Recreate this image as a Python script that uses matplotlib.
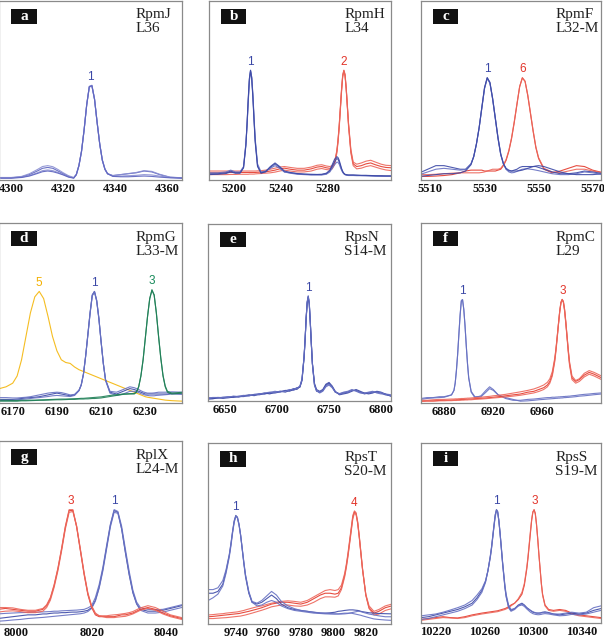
import matplotlib
matplotlib.use("Agg")
import matplotlib.pyplot as plt
from matplotlib.patches import Rectangle

# ---------------- data ----------------
# panel a  RpmJ L36
A_X = [4296, 4300, 4304, 4307, 4310, 4312, 4314, 4316, 4318, 4320, 4322, 4324, 4325, 4326, 4327, 4328, 4329, 4330, 4331, 4332, 4333, 4334, 4335, 4336, 4337, 4339, 4342, 4345, 4348, 4351, 4354, 4357, 4361, 4366]
A_BLUE_1 = [0.012, 0.012, 0.018, 0.03, 0.05, 0.065, 0.07, 0.065, 0.05, 0.035, 0.02, 0.012, 0.03, 0.08, 0.16, 0.28, 0.42, 0.52, 0.525, 0.45, 0.32, 0.20, 0.11, 0.06, 0.035, 0.025, 0.03, 0.035, 0.04, 0.05, 0.045, 0.03, 0.015, 0.012]
A_BLUE_2 = [0.012, 0.012, 0.015, 0.025, 0.04, 0.052, 0.056, 0.052, 0.042, 0.03, 0.018, 0.012, 0.028, 0.078, 0.158, 0.278, 0.418, 0.518, 0.522, 0.448, 0.318, 0.198, 0.108, 0.058, 0.034, 0.024, 0.03, 0.036, 0.042, 0.052, 0.048, 0.032, 0.016, 0.012]
A_BLUE_3 = [0.014, 0.014, 0.02, 0.035, 0.058, 0.075, 0.08, 0.074, 0.058, 0.04, 0.024, 0.014, 0.032, 0.082, 0.162, 0.282, 0.422, 0.522, 0.528, 0.452, 0.322, 0.202, 0.112, 0.062, 0.036, 0.022, 0.022, 0.024, 0.026, 0.03, 0.028, 0.022, 0.014, 0.01]
A_BLUE_4 = [0.01, 0.01, 0.014, 0.022, 0.036, 0.046, 0.05, 0.046, 0.038, 0.028, 0.016, 0.01, 0.03, 0.08, 0.16, 0.28, 0.42, 0.52, 0.525, 0.45, 0.32, 0.2, 0.11, 0.06, 0.035, 0.02, 0.018, 0.018, 0.02, 0.022, 0.02, 0.016, 0.012, 0.01]

# panel b  RpmH L34
B_X = [5178, 5186, 5193, 5197, 5201, 5205, 5208, 5210, 5211, 5212, 5213, 5214, 5215, 5216, 5217, 5218, 5220, 5223, 5227, 5231, 5235, 5239, 5243, 5248, 5254, 5260, 5266, 5271, 5275, 5279, 5282, 5284, 5286, 5288, 5289, 5290, 5291, 5292, 5293, 5294, 5295, 5296, 5297, 5298, 5300, 5302, 5305, 5309, 5313, 5317, 5321, 5326, 5330, 5335]
B_BLUE_1 = [0.035, 0.035, 0.04, 0.05, 0.04, 0.04, 0.07, 0.2, 0.31, 0.44, 0.56, 0.61, 0.57, 0.47, 0.34, 0.22, 0.08, 0.04, 0.045, 0.07, 0.09, 0.07, 0.045, 0.04, 0.035, 0.032, 0.03, 0.03, 0.03, 0.035, 0.05, 0.075, 0.1, 0.12, 0.115, 0.1, 0.08, 0.06, 0.045, 0.035, 0.03, 0.028, 0.027, 0.027, 0.027, 0.027, 0.026, 0.025, 0.025, 0.024, 0.023, 0.022, 0.022, 0.022]
B_BLUE_2 = [0.04, 0.04, 0.045, 0.055, 0.045, 0.045, 0.075, 0.2, 0.3, 0.43, 0.55, 0.605, 0.575, 0.48, 0.35, 0.23, 0.09, 0.045, 0.05, 0.065, 0.08, 0.065, 0.045, 0.038, 0.032, 0.03, 0.028, 0.028, 0.028, 0.032, 0.045, 0.065, 0.085, 0.1, 0.098, 0.088, 0.07, 0.055, 0.042, 0.035, 0.03, 0.028, 0.026, 0.025, 0.025, 0.025, 0.024, 0.024, 0.023, 0.022, 0.021, 0.02, 0.02, 0.02]
B_BLUE_3 = [0.03, 0.032, 0.036, 0.045, 0.038, 0.038, 0.068, 0.19, 0.31, 0.45, 0.565, 0.612, 0.565, 0.46, 0.33, 0.21, 0.075, 0.038, 0.048, 0.075, 0.095, 0.075, 0.05, 0.042, 0.036, 0.033, 0.032, 0.031, 0.032, 0.038, 0.055, 0.085, 0.115, 0.13, 0.125, 0.11, 0.088, 0.065, 0.048, 0.038, 0.032, 0.03, 0.029, 0.028, 0.028, 0.028, 0.027, 0.026, 0.026, 0.025, 0.024, 0.024, 0.023, 0.023]
B_RED_1 = [0.04, 0.04, 0.042, 0.042, 0.042, 0.042, 0.042, 0.042, 0.042, 0.042, 0.042, 0.042, 0.042, 0.042, 0.042, 0.042, 0.043, 0.044, 0.046, 0.05, 0.055, 0.062, 0.066, 0.06, 0.055, 0.055, 0.062, 0.072, 0.075, 0.068, 0.065, 0.07, 0.09, 0.16, 0.22, 0.3, 0.4, 0.5, 0.58, 0.61, 0.585, 0.51, 0.41, 0.31, 0.16, 0.09, 0.075, 0.08, 0.09, 0.095, 0.085, 0.075, 0.07, 0.068]
B_RED_2 = [0.03, 0.03, 0.03, 0.031, 0.031, 0.032, 0.032, 0.032, 0.032, 0.032, 0.033, 0.033, 0.033, 0.033, 0.033, 0.034, 0.035, 0.036, 0.038, 0.04, 0.044, 0.05, 0.055, 0.05, 0.045, 0.045, 0.05, 0.06, 0.064, 0.058, 0.056, 0.062, 0.085, 0.15, 0.21, 0.29, 0.39, 0.49, 0.575, 0.605, 0.58, 0.505, 0.405, 0.3, 0.15, 0.08, 0.062, 0.066, 0.075, 0.08, 0.072, 0.062, 0.056, 0.052]
B_RED_3 = [0.05, 0.05, 0.05, 0.05, 0.05, 0.05, 0.05, 0.05, 0.05, 0.05, 0.05, 0.05, 0.05, 0.05, 0.05, 0.05, 0.051, 0.052, 0.055, 0.06, 0.066, 0.072, 0.075, 0.07, 0.065, 0.065, 0.072, 0.082, 0.085, 0.078, 0.075, 0.08, 0.1, 0.165, 0.225, 0.305, 0.405, 0.505, 0.585, 0.612, 0.59, 0.515, 0.415, 0.315, 0.17, 0.1, 0.088, 0.095, 0.105, 0.11, 0.1, 0.088, 0.082, 0.08]

# panel c  RpmF L32-M
C_X = [5506, 5509, 5512, 5515, 5518, 5521, 5523, 5525, 5526, 5527, 5528, 5529, 5530, 5531, 5532, 5533, 5534, 5535, 5536, 5537, 5538, 5539, 5540, 5541, 5542, 5543, 5544, 5545, 5546, 5547, 5548, 5549, 5550, 5552, 5555, 5558, 5561, 5564, 5567, 5570, 5574]
C_BLUE_1 = [0.04, 0.06, 0.08, 0.08, 0.07, 0.06, 0.06, 0.09, 0.13, 0.2, 0.29, 0.4, 0.51, 0.57, 0.54, 0.45, 0.34, 0.23, 0.14, 0.09, 0.06, 0.05, 0.05, 0.055, 0.06, 0.07, 0.075, 0.075, 0.075, 0.075, 0.075, 0.075, 0.07, 0.06, 0.045, 0.035, 0.035, 0.04, 0.05, 0.045, 0.035]
C_BLUE_2 = [0.03, 0.045, 0.06, 0.065, 0.06, 0.055, 0.058, 0.09, 0.13, 0.2, 0.29, 0.4, 0.51, 0.565, 0.54, 0.455, 0.345, 0.235, 0.145, 0.09, 0.06, 0.045, 0.04, 0.042, 0.048, 0.055, 0.06, 0.062, 0.062, 0.06, 0.058, 0.055, 0.052, 0.045, 0.035, 0.03, 0.03, 0.035, 0.045, 0.04, 0.03]
C_BLUE_3 = [0.02, 0.025, 0.03, 0.035, 0.035, 0.04, 0.05, 0.085, 0.13, 0.2, 0.29, 0.405, 0.515, 0.57, 0.545, 0.455, 0.345, 0.235, 0.145, 0.09, 0.065, 0.055, 0.05, 0.05, 0.05, 0.052, 0.055, 0.06, 0.065, 0.07, 0.075, 0.078, 0.08, 0.075, 0.06, 0.045, 0.035, 0.03, 0.03, 0.03, 0.035]
C_RED_1 = [0.02, 0.02, 0.022, 0.025, 0.03, 0.04, 0.05, 0.055, 0.055, 0.055, 0.055, 0.055, 0.05, 0.05, 0.05, 0.05, 0.05, 0.055, 0.06, 0.08, 0.11, 0.16, 0.23, 0.32, 0.42, 0.52, 0.57, 0.55, 0.47, 0.37, 0.27, 0.18, 0.12, 0.06, 0.04, 0.05, 0.065, 0.08, 0.075, 0.055, 0.04]
C_RED_2 = [0.03, 0.03, 0.032, 0.035, 0.038, 0.04, 0.04, 0.04, 0.04, 0.04, 0.04, 0.042, 0.045, 0.05, 0.055, 0.06, 0.06, 0.06, 0.065, 0.085, 0.115, 0.165, 0.235, 0.325, 0.425, 0.52, 0.568, 0.55, 0.475, 0.375, 0.275, 0.185, 0.125, 0.065, 0.045, 0.04, 0.05, 0.06, 0.06, 0.05, 0.04]

# panel d  RpmG L33-M
D_X = [6164, 6167, 6170, 6172, 6174, 6176, 6178, 6180, 6182, 6184, 6186, 6188, 6190, 6192, 6194, 6196, 6198, 6200, 6201, 6202, 6203, 6204, 6205, 6206, 6207, 6208, 6209, 6210, 6211, 6212, 6214, 6217, 6220, 6223, 6225, 6226, 6227, 6228, 6229, 6230, 6231, 6232, 6233, 6234, 6235, 6236, 6237, 6238, 6239, 6240, 6242, 6247]
D_YELLOW = [0.08, 0.09, 0.11, 0.15, 0.24, 0.37, 0.5, 0.59, 0.62, 0.58, 0.48, 0.37, 0.29, 0.24, 0.225, 0.22, 0.2, 0.185, 0.18, 0.175, 0.17, 0.165, 0.16, 0.155, 0.15, 0.145, 0.14, 0.135, 0.13, 0.125, 0.115, 0.1, 0.085, 0.07, 0.06, 0.055, 0.05, 0.045, 0.04, 0.035, 0.032, 0.03, 0.028, 0.026, 0.024, 0.022, 0.02, 0.018, 0.016, 0.015, 0.013, 0.01]
D_BLUE_1 = [0.02, 0.02, 0.02, 0.022, 0.025, 0.028, 0.03, 0.032, 0.035, 0.04, 0.045, 0.05, 0.055, 0.05, 0.045, 0.04, 0.045, 0.07, 0.1, 0.16, 0.26, 0.38, 0.5, 0.6, 0.62, 0.57, 0.47, 0.34, 0.22, 0.13, 0.06, 0.05, 0.065, 0.08, 0.075, 0.07, 0.065, 0.06, 0.055, 0.05, 0.05, 0.05, 0.05, 0.05, 0.05, 0.05, 0.05, 0.05, 0.05, 0.05, 0.055, 0.05]
D_BLUE_2 = [0.03, 0.03, 0.028, 0.028, 0.03, 0.032, 0.035, 0.04, 0.045, 0.05, 0.055, 0.058, 0.06, 0.058, 0.052, 0.045, 0.048, 0.072, 0.1, 0.16, 0.26, 0.375, 0.495, 0.595, 0.615, 0.565, 0.465, 0.34, 0.22, 0.13, 0.065, 0.06, 0.075, 0.09, 0.085, 0.08, 0.075, 0.068, 0.062, 0.058, 0.055, 0.055, 0.055, 0.056, 0.058, 0.06, 0.06, 0.06, 0.06, 0.06, 0.062, 0.06]
D_BLUE_3 = [0.015, 0.015, 0.016, 0.018, 0.02, 0.022, 0.025, 0.028, 0.03, 0.033, 0.036, 0.04, 0.042, 0.04, 0.038, 0.036, 0.042, 0.068, 0.1, 0.16, 0.26, 0.38, 0.5, 0.6, 0.62, 0.57, 0.47, 0.34, 0.22, 0.125, 0.055, 0.042, 0.05, 0.065, 0.065, 0.062, 0.058, 0.052, 0.048, 0.044, 0.042, 0.04, 0.04, 0.04, 0.042, 0.043, 0.044, 0.045, 0.046, 0.047, 0.05, 0.048]
D_GREEN_1 = [0.01, 0.01, 0.01, 0.01, 0.012, 0.012, 0.013, 0.014, 0.015, 0.015, 0.016, 0.017, 0.018, 0.018, 0.019, 0.02, 0.02, 0.022, 0.022, 0.022, 0.023, 0.023, 0.024, 0.025, 0.025, 0.026, 0.027, 0.028, 0.03, 0.032, 0.036, 0.042, 0.048, 0.05, 0.05, 0.06, 0.09, 0.15, 0.24, 0.36, 0.48, 0.58, 0.63, 0.6, 0.5, 0.37, 0.25, 0.15, 0.09, 0.06, 0.05, 0.055]
D_GREEN_2 = [0.015, 0.015, 0.014, 0.014, 0.015, 0.015, 0.016, 0.016, 0.017, 0.018, 0.019, 0.02, 0.021, 0.022, 0.022, 0.023, 0.024, 0.025, 0.026, 0.026, 0.027, 0.028, 0.029, 0.03, 0.031, 0.032, 0.033, 0.034, 0.036, 0.038, 0.042, 0.046, 0.05, 0.052, 0.053, 0.062, 0.09, 0.15, 0.24, 0.36, 0.48, 0.58, 0.625, 0.6, 0.5, 0.37, 0.25, 0.155, 0.095, 0.065, 0.055, 0.06]

# panel e  RpsN S14-M
E_X = [6633, 6638, 6643, 6648, 6653, 6658, 6663, 6668, 6673, 6678, 6683, 6688, 6693, 6698, 6703, 6708, 6712, 6716, 6719, 6722, 6724, 6726, 6727, 6728, 6729, 6730, 6731, 6732, 6733, 6734, 6736, 6738, 6741, 6744, 6747, 6750, 6753, 6756, 6760, 6764, 6768, 6772, 6776, 6780, 6784, 6788, 6792, 6796, 6800, 6804, 6810]
E_BLUE_1 = [0.015, 0.015, 0.02, 0.018, 0.022, 0.025, 0.022, 0.03, 0.035, 0.03, 0.04, 0.045, 0.04, 0.05, 0.055, 0.05, 0.06, 0.07, 0.065, 0.08, 0.12, 0.25, 0.35, 0.47, 0.56, 0.59, 0.55, 0.44, 0.32, 0.21, 0.09, 0.055, 0.05, 0.06, 0.09, 0.1, 0.08, 0.05, 0.04, 0.045, 0.05, 0.06, 0.06, 0.05, 0.04, 0.045, 0.05, 0.05, 0.045, 0.035, 0.03]
E_BLUE_2 = [0.02, 0.018, 0.015, 0.022, 0.025, 0.02, 0.028, 0.032, 0.028, 0.038, 0.042, 0.038, 0.048, 0.055, 0.05, 0.058, 0.065, 0.06, 0.07, 0.085, 0.125, 0.25, 0.35, 0.465, 0.55, 0.585, 0.545, 0.44, 0.32, 0.21, 0.095, 0.06, 0.045, 0.055, 0.08, 0.09, 0.075, 0.05, 0.042, 0.05, 0.055, 0.065, 0.055, 0.045, 0.045, 0.05, 0.055, 0.045, 0.04, 0.04, 0.035]
E_BLUE_3 = [0.01, 0.012, 0.018, 0.015, 0.018, 0.022, 0.025, 0.025, 0.032, 0.035, 0.035, 0.042, 0.045, 0.045, 0.052, 0.06, 0.055, 0.065, 0.075, 0.078, 0.115, 0.245, 0.345, 0.47, 0.555, 0.59, 0.55, 0.445, 0.325, 0.215, 0.1, 0.065, 0.055, 0.065, 0.095, 0.105, 0.085, 0.055, 0.035, 0.04, 0.045, 0.055, 0.065, 0.055, 0.045, 0.04, 0.045, 0.055, 0.05, 0.04, 0.025]
E_BLUE_4 = [0.012, 0.02, 0.02, 0.02, 0.02, 0.028, 0.025, 0.028, 0.03, 0.035, 0.038, 0.045, 0.05, 0.048, 0.055, 0.055, 0.062, 0.068, 0.072, 0.082, 0.12, 0.25, 0.35, 0.47, 0.56, 0.595, 0.555, 0.445, 0.32, 0.21, 0.09, 0.058, 0.048, 0.058, 0.085, 0.095, 0.08, 0.052, 0.038, 0.048, 0.05, 0.06, 0.058, 0.048, 0.042, 0.048, 0.05, 0.05, 0.048, 0.038, 0.03]

# panel f  RpmC L29
F_X = [6861, 6866, 6871, 6876, 6880, 6883, 6886, 6888, 6889, 6890, 6891, 6892, 6893, 6894, 6895, 6896, 6897, 6898, 6899, 6900, 6902, 6905, 6910, 6914, 6917, 6920, 6924, 6930, 6936, 6942, 6948, 6953, 6957, 6961, 6964, 6966, 6968, 6970, 6971, 6972, 6973, 6974, 6975, 6976, 6977, 6978, 6979, 6980, 6981, 6982, 6984, 6987, 6990, 6994, 6998, 7002, 7008]
F_BLUE_1 = [0.025, 0.03, 0.03, 0.035, 0.035, 0.04, 0.045, 0.07, 0.11, 0.18, 0.27, 0.38, 0.49, 0.57, 0.575, 0.52, 0.43, 0.32, 0.22, 0.14, 0.06, 0.03, 0.04, 0.07, 0.09, 0.075, 0.045, 0.025, 0.015, 0.015, 0.02, 0.022, 0.025, 0.028, 0.03, 0.03, 0.032, 0.032, 0.033, 0.033, 0.034, 0.034, 0.035, 0.035, 0.036, 0.036, 0.037, 0.037, 0.038, 0.038, 0.04, 0.042, 0.045, 0.048, 0.05, 0.053, 0.056]
F_BLUE_2 = [0.02, 0.025, 0.028, 0.03, 0.032, 0.038, 0.045, 0.07, 0.11, 0.18, 0.27, 0.38, 0.485, 0.565, 0.572, 0.52, 0.43, 0.32, 0.22, 0.14, 0.065, 0.035, 0.035, 0.06, 0.08, 0.07, 0.045, 0.03, 0.02, 0.01, 0.012, 0.015, 0.018, 0.02, 0.022, 0.023, 0.024, 0.025, 0.026, 0.026, 0.027, 0.027, 0.028, 0.028, 0.029, 0.03, 0.03, 0.031, 0.031, 0.032, 0.033, 0.035, 0.038, 0.04, 0.043, 0.046, 0.05]
F_RED_1 = [0.01, 0.012, 0.012, 0.014, 0.015, 0.015, 0.016, 0.017, 0.017, 0.018, 0.018, 0.018, 0.019, 0.019, 0.02, 0.02, 0.02, 0.021, 0.021, 0.022, 0.022, 0.024, 0.026, 0.028, 0.03, 0.032, 0.035, 0.04, 0.045, 0.05, 0.06, 0.065, 0.075, 0.085, 0.1, 0.12, 0.16, 0.24, 0.3, 0.37, 0.44, 0.51, 0.56, 0.576, 0.565, 0.52, 0.45, 0.37, 0.29, 0.22, 0.14, 0.12, 0.13, 0.155, 0.17, 0.16, 0.14]
F_RED_2 = [0.015, 0.015, 0.018, 0.02, 0.02, 0.021, 0.022, 0.022, 0.023, 0.023, 0.023, 0.024, 0.024, 0.025, 0.025, 0.025, 0.026, 0.026, 0.027, 0.027, 0.028, 0.03, 0.032, 0.035, 0.037, 0.04, 0.043, 0.048, 0.055, 0.062, 0.07, 0.078, 0.088, 0.1, 0.115, 0.135, 0.175, 0.25, 0.305, 0.37, 0.44, 0.505, 0.555, 0.572, 0.56, 0.515, 0.445, 0.37, 0.295, 0.23, 0.15, 0.125, 0.135, 0.165, 0.18, 0.17, 0.15]
F_RED_3 = [0.008, 0.01, 0.01, 0.012, 0.012, 0.013, 0.013, 0.014, 0.014, 0.014, 0.015, 0.015, 0.015, 0.016, 0.016, 0.016, 0.017, 0.017, 0.017, 0.018, 0.018, 0.02, 0.022, 0.024, 0.026, 0.028, 0.03, 0.034, 0.038, 0.043, 0.05, 0.056, 0.064, 0.075, 0.09, 0.11, 0.15, 0.23, 0.29, 0.36, 0.435, 0.505, 0.555, 0.574, 0.56, 0.51, 0.44, 0.36, 0.28, 0.21, 0.13, 0.11, 0.12, 0.145, 0.16, 0.15, 0.13]

# panel g  RplX L24-M
G_X = [7995, 7997, 7999, 8001, 8003, 8005, 8007, 8008, 8009, 8010, 8011, 8012, 8013, 8014, 8015, 8016, 8017, 8018, 8019, 8020, 8021, 8022, 8023, 8024, 8025, 8026, 8027, 8028, 8029, 8030, 8031, 8032, 8033, 8035, 8037, 8039, 8041, 8044]
G_RED_1 = [0.08, 0.085, 0.08, 0.075, 0.07, 0.07, 0.08, 0.1, 0.14, 0.21, 0.3, 0.41, 0.53, 0.62, 0.62, 0.53, 0.4, 0.27, 0.16, 0.09, 0.05, 0.04, 0.04, 0.04, 0.04, 0.04, 0.045, 0.05, 0.05, 0.055, 0.06, 0.07, 0.08, 0.09, 0.08, 0.06, 0.045, 0.03]
G_RED_2 = [0.065, 0.07, 0.072, 0.068, 0.062, 0.062, 0.07, 0.09, 0.13, 0.2, 0.29, 0.4, 0.52, 0.61, 0.615, 0.535, 0.41, 0.28, 0.17, 0.1, 0.06, 0.045, 0.04, 0.035, 0.035, 0.035, 0.038, 0.04, 0.042, 0.048, 0.055, 0.065, 0.075, 0.085, 0.075, 0.055, 0.04, 0.025]
G_RED_3 = [0.09, 0.09, 0.088, 0.08, 0.075, 0.075, 0.085, 0.105, 0.145, 0.215, 0.305, 0.415, 0.535, 0.625, 0.625, 0.535, 0.405, 0.275, 0.165, 0.095, 0.055, 0.045, 0.045, 0.045, 0.048, 0.05, 0.052, 0.055, 0.058, 0.062, 0.068, 0.078, 0.088, 0.1, 0.09, 0.07, 0.05, 0.035]
G_BLUE_1 = [0.03, 0.035, 0.04, 0.045, 0.05, 0.05, 0.055, 0.055, 0.058, 0.06, 0.06, 0.062, 0.062, 0.064, 0.065, 0.065, 0.067, 0.07, 0.075, 0.09, 0.13, 0.2, 0.3, 0.42, 0.54, 0.62, 0.61, 0.52, 0.39, 0.27, 0.17, 0.11, 0.08, 0.07, 0.07, 0.075, 0.085, 0.1]
G_BLUE_2 = [0.015, 0.018, 0.022, 0.025, 0.03, 0.033, 0.036, 0.038, 0.04, 0.042, 0.044, 0.046, 0.048, 0.05, 0.052, 0.054, 0.056, 0.06, 0.068, 0.085, 0.125, 0.195, 0.29, 0.41, 0.53, 0.61, 0.605, 0.52, 0.395, 0.275, 0.175, 0.11, 0.075, 0.06, 0.06, 0.065, 0.075, 0.09]
G_BLUE_3 = [0.055, 0.058, 0.06, 0.062, 0.063, 0.064, 0.066, 0.067, 0.068, 0.07, 0.07, 0.072, 0.073, 0.074, 0.075, 0.076, 0.078, 0.08, 0.088, 0.1, 0.145, 0.215, 0.31, 0.43, 0.545, 0.625, 0.615, 0.535, 0.41, 0.29, 0.185, 0.12, 0.09, 0.08, 0.078, 0.08, 0.09, 0.105]

# panel h  RpsT S20-M
H_X = [9723, 9726, 9729, 9732, 9734, 9736, 9737, 9738, 9739, 9740, 9741, 9742, 9743, 9744, 9745, 9746, 9748, 9750, 9753, 9756, 9759, 9762, 9765, 9768, 9772, 9776, 9780, 9784, 9788, 9792, 9795, 9798, 9801, 9803, 9805, 9807, 9808, 9809, 9810, 9811, 9812, 9813, 9814, 9815, 9816, 9817, 9818, 9820, 9822, 9825, 9828, 9832, 9836]
H_BLUE_1 = [0.17, 0.17, 0.18, 0.22, 0.29, 0.38, 0.44, 0.51, 0.57, 0.6, 0.59, 0.55, 0.49, 0.41, 0.33, 0.26, 0.17, 0.12, 0.11, 0.12, 0.14, 0.16, 0.14, 0.11, 0.09, 0.08, 0.075, 0.07, 0.065, 0.06, 0.06, 0.062, 0.065, 0.07, 0.072, 0.075, 0.076, 0.077, 0.078, 0.078, 0.078, 0.077, 0.076, 0.075, 0.073, 0.07, 0.068, 0.065, 0.062, 0.06, 0.058, 0.057, 0.056]
H_BLUE_2 = [0.19, 0.19, 0.2, 0.24, 0.3, 0.385, 0.445, 0.51, 0.565, 0.595, 0.585, 0.545, 0.485, 0.41, 0.335, 0.27, 0.18, 0.125, 0.115, 0.13, 0.155, 0.18, 0.16, 0.125, 0.1, 0.085, 0.075, 0.07, 0.065, 0.062, 0.06, 0.058, 0.056, 0.055, 0.055, 0.056, 0.057, 0.058, 0.06, 0.062, 0.064, 0.066, 0.068, 0.07, 0.07, 0.068, 0.065, 0.06, 0.055, 0.05, 0.045, 0.04, 0.04]
H_BLUE_3 = [0.13, 0.145, 0.165, 0.21, 0.28, 0.37, 0.43, 0.5, 0.56, 0.595, 0.59, 0.55, 0.49, 0.415, 0.34, 0.27, 0.175, 0.12, 0.1, 0.105, 0.12, 0.13, 0.12, 0.1, 0.085, 0.075, 0.07, 0.065, 0.06, 0.058, 0.056, 0.055, 0.055, 0.056, 0.058, 0.06, 0.06, 0.06, 0.06, 0.06, 0.058, 0.056, 0.054, 0.052, 0.05, 0.048, 0.045, 0.04, 0.035, 0.028, 0.025, 0.022, 0.02]
H_RED_1 = [0.04, 0.042, 0.045, 0.048, 0.05, 0.052, 0.053, 0.054, 0.055, 0.056, 0.057, 0.058, 0.06, 0.062, 0.064, 0.066, 0.07, 0.075, 0.082, 0.09, 0.1, 0.11, 0.115, 0.12, 0.12, 0.115, 0.11, 0.12, 0.14, 0.16, 0.17, 0.17, 0.165, 0.17, 0.2, 0.27, 0.32, 0.38, 0.45, 0.52, 0.59, 0.62, 0.61, 0.56, 0.48, 0.39, 0.3, 0.16, 0.09, 0.06, 0.07, 0.09, 0.1]
H_RED_2 = [0.03, 0.03, 0.032, 0.034, 0.035, 0.037, 0.038, 0.039, 0.04, 0.041, 0.042, 0.043, 0.044, 0.046, 0.048, 0.05, 0.055, 0.06, 0.068, 0.076, 0.085, 0.095, 0.1, 0.105, 0.105, 0.1, 0.098, 0.105, 0.12, 0.14, 0.15, 0.15, 0.148, 0.155, 0.19, 0.26, 0.31, 0.37, 0.44, 0.51, 0.58, 0.612, 0.605, 0.555, 0.475, 0.385, 0.3, 0.16, 0.085, 0.05, 0.055, 0.075, 0.085]
H_RED_3 = [0.05, 0.052, 0.055, 0.057, 0.06, 0.062, 0.063, 0.064, 0.065, 0.066, 0.067, 0.069, 0.071, 0.073, 0.075, 0.078, 0.083, 0.088, 0.095, 0.1, 0.108, 0.115, 0.12, 0.125, 0.128, 0.125, 0.12, 0.13, 0.15, 0.17, 0.185, 0.19, 0.185, 0.19, 0.215, 0.28, 0.33, 0.39, 0.46, 0.53, 0.6, 0.625, 0.615, 0.565, 0.485, 0.395, 0.305, 0.165, 0.1, 0.07, 0.08, 0.1, 0.11]

# panel i  RpsS S19-M
I_X = [10208, 10214, 10220, 10226, 10232, 10238, 10244, 10250, 10254, 10258, 10261, 10263, 10265, 10266, 10267, 10268, 10269, 10270, 10271, 10272, 10273, 10274, 10275, 10276, 10277, 10278, 10280, 10282, 10285, 10288, 10291, 10293, 10295, 10296, 10297, 10298, 10299, 10300, 10301, 10302, 10303, 10304, 10305, 10306, 10307, 10308, 10310, 10313, 10317, 10322, 10327, 10332, 10338, 10344, 10350, 10356]
I_BLUE_1 = [0.03, 0.035, 0.045, 0.055, 0.065, 0.075, 0.09, 0.11, 0.14, 0.18, 0.23, 0.29, 0.37, 0.42, 0.48, 0.54, 0.6, 0.63, 0.62, 0.57, 0.5, 0.42, 0.34, 0.27, 0.2, 0.15, 0.09, 0.07, 0.08, 0.1, 0.11, 0.1, 0.085, 0.08, 0.075, 0.07, 0.065, 0.06, 0.058, 0.056, 0.055, 0.055, 0.055, 0.056, 0.058, 0.06, 0.062, 0.058, 0.05, 0.045, 0.05, 0.055, 0.05, 0.055, 0.07, 0.08]
I_BLUE_2 = [0.04, 0.045, 0.05, 0.06, 0.072, 0.085, 0.1, 0.125, 0.155, 0.19, 0.235, 0.29, 0.365, 0.415, 0.475, 0.535, 0.59, 0.62, 0.615, 0.57, 0.5, 0.425, 0.345, 0.275, 0.21, 0.16, 0.1, 0.075, 0.08, 0.095, 0.105, 0.098, 0.085, 0.08, 0.075, 0.07, 0.066, 0.063, 0.06, 0.058, 0.056, 0.055, 0.055, 0.055, 0.056, 0.057, 0.058, 0.055, 0.05, 0.05, 0.055, 0.06, 0.055, 0.06, 0.085, 0.095]
I_BLUE_3 = [0.02, 0.025, 0.035, 0.045, 0.055, 0.065, 0.08, 0.1, 0.13, 0.17, 0.225, 0.29, 0.375, 0.425, 0.485, 0.545, 0.6, 0.628, 0.618, 0.565, 0.495, 0.415, 0.335, 0.265, 0.195, 0.145, 0.085, 0.065, 0.075, 0.095, 0.1, 0.092, 0.078, 0.072, 0.066, 0.06, 0.056, 0.052, 0.05, 0.048, 0.047, 0.046, 0.046, 0.047, 0.048, 0.05, 0.052, 0.05, 0.045, 0.04, 0.042, 0.048, 0.045, 0.05, 0.06, 0.07]
I_RED_1 = [0.02, 0.025, 0.03, 0.035, 0.03, 0.028, 0.035, 0.045, 0.05, 0.055, 0.058, 0.06, 0.062, 0.063, 0.064, 0.065, 0.066, 0.067, 0.068, 0.07, 0.072, 0.074, 0.076, 0.078, 0.08, 0.083, 0.09, 0.1, 0.11, 0.13, 0.16, 0.21, 0.3, 0.36, 0.43, 0.5, 0.57, 0.615, 0.63, 0.61, 0.55, 0.47, 0.38, 0.3, 0.22, 0.16, 0.1, 0.075, 0.07, 0.075, 0.07, 0.055, 0.045, 0.04, 0.035, 0.03]
I_RED_2 = [0.015, 0.02, 0.025, 0.03, 0.028, 0.025, 0.03, 0.04, 0.045, 0.05, 0.053, 0.055, 0.057, 0.058, 0.059, 0.06, 0.061, 0.062, 0.063, 0.065, 0.067, 0.069, 0.071, 0.073, 0.075, 0.078, 0.085, 0.095, 0.11, 0.135, 0.17, 0.22, 0.31, 0.37, 0.44, 0.51, 0.575, 0.618, 0.628, 0.605, 0.545, 0.465, 0.375, 0.295, 0.215, 0.155, 0.095, 0.07, 0.065, 0.07, 0.065, 0.05, 0.04, 0.035, 0.03, 0.025]

# panel annotations
LETTERS = ["a", "b", "c", "d", "e", "f", "g", "h", "i"]
PROTEINS = [("RpmJ", "L36"), ("RpmH", "L34"), ("RpmF", "L32-M"),
            ("RpmG", "L33-M"), ("RpsN", "S14-M"), ("RpmC", "L29"),
            ("RplX", "L24-M"), ("RpsT", "S20-M"), ("RpsS", "S19-M")]
TICKS = [[4300, 4320, 4340, 4360], [5200, 5240, 5280], [5510, 5530, 5550, 5570],
         [6170, 6190, 6210, 6230], [6650, 6700, 6750, 6800], [6880, 6920, 6960],
         [8000, 8020, 8040], [9740, 9760, 9780, 9800, 9820], [10220, 10260, 10300, 10340]]
XLIMS = [(4295.3, 4365.6), (5178.4, 5334.4), (5506.5, 5573.1),
         (6163.8, 6246.6), (6633.6, 6809.6), (6861.2, 7007.6),
         (7995.3, 8044.1), (9722.9, 9835.5), (10207.9, 10356.1)]
PEAK_LABELS = [
    [("1", 4330.5, 0.53, "blue")],
    [("1", 5214, 0.61, "blue"), ("2", 5294, 0.61, "red")],
    [("1", 5531, 0.575, "blue"), ("6", 5544, 0.575, "red")],
    [("5", 6182, 0.62, "yellow"), ("1", 6206.8, 0.62, "blue"), ("3", 6233, 0.63, "green")],
    [("1", 6730, 0.595, "blue")],
    [("1", 6894.5, 0.575, "blue"), ("3", 6976.2, 0.576, "red")],
    [("3", 8014.5, 0.625, "red"), ("1", 8026, 0.625, "blue")],
    [("1", 9740, 0.6, "blue"), ("4", 9813, 0.625, "red")],
    [("1", 10270.2, 0.63, "blue"), ("3", 10301.2, 0.63, "red")],
]

# ---------------- style ----------------
COL = {"blue": "#3b48a6", "blue2": "#6670c2", "red": "#e43a2c", "red2": "#ec6559",
       "yellow": "#f4b60a", "green": "#1e7f56", "lav": "#5b62bf", "lav2": "#8a8fd2"}
SERIES = [
    (A_X, [(A_BLUE_1, "lav"), (A_BLUE_2, "lav2"), (A_BLUE_3, "lav2"), (A_BLUE_4, "lav")]),
    (B_X, [(B_RED_1, "red"), (B_RED_2, "red2"), (B_RED_3, "red2"),
           (B_BLUE_1, "blue"), (B_BLUE_2, "blue2"), (B_BLUE_3, "blue")]),
    (C_X, [(C_RED_1, "red"), (C_RED_2, "red2"),
           (C_BLUE_1, "blue"), (C_BLUE_2, "blue2"), (C_BLUE_3, "blue")]),
    (D_X, [(D_YELLOW, "yellow"), (D_BLUE_1, "blue"), (D_BLUE_2, "blue2"), (D_BLUE_3, "blue2"),
           (D_GREEN_1, "green"), (D_GREEN_2, "green")]),
    (E_X, [(E_BLUE_1, "blue"), (E_BLUE_2, "blue2"), (E_BLUE_3, "blue"), (E_BLUE_4, "blue2")]),
    (F_X, [(F_BLUE_1, "blue2"), (F_BLUE_2, "blue2"),
           (F_RED_1, "red"), (F_RED_2, "red2"), (F_RED_3, "red2")]),
    (G_X, [(G_BLUE_1, "blue"), (G_BLUE_2, "blue2"), (G_BLUE_3, "blue2"),
           (G_RED_1, "red"), (G_RED_2, "red2"), (G_RED_3, "red2")]),
    (H_X, [(H_RED_1, "red"), (H_RED_2, "red2"), (H_RED_3, "red2"),
           (H_BLUE_1, "blue"), (H_BLUE_2, "blue2"), (H_BLUE_3, "blue2")]),
    (I_X, [(I_RED_1, "red"), (I_RED_2, "red2"),
           (I_BLUE_1, "blue"), (I_BLUE_2, "blue2"), (I_BLUE_3, "blue2")]),
]
LABEL_COL = {"blue": "#3b48a6", "red": "#e2342a", "yellow": "#f4b000", "green": "#178a5a"}

# axes boxes in pixels: (left, top, right, bottom)
BOXES = [(-1, 0.5, 182, 180), (209, 0.5, 391, 180), (421, 0.5, 601, 180),
         (-1, 223, 182, 403), (208, 224, 391, 401), (421, 223, 601, 403),
         (-1, 441, 182, 624), (208, 443, 391, 624), (421, 443, 601, 623)]

W, H = 604, 638
fig = plt.figure(figsize=(W / 100, H / 100), dpi=100)
fig.patch.set_facecolor("white")

for k in range(9):
    l, t, r, b = BOXES[k]
    ax = fig.add_axes([l / W, 1 - b / H, (r - l) / W, (b - t) / H])
    x, traces = SERIES[k]
    for ys, c in traces:
        ax.plot(x, ys, color=COL[c], lw=0.8, alpha=0.9, solid_joinstyle="round")
    ax.set_xlim(*XLIMS[k])
    ax.set_ylim(0, 1)
    ax.set_yticks([])
    ax.set_xticks(TICKS[k])
    ax.set_xticklabels([str(v) for v in TICKS[k]], fontfamily="Liberation Serif",
                       fontweight="bold", fontsize=9)
    ax.tick_params(axis="x", length=0, pad=2.0, colors="#111111")
    for s in ax.spines.values():
        s.set_color("#8a8a8a")
        s.set_linewidth(0.9)
    # letter box
    ax.add_patch(Rectangle((0.068, 0.87), 0.138, 0.085, transform=ax.transAxes,
                           facecolor="#111111", edgecolor="none", zorder=5))
    ax.text(0.137, 0.912, LETTERS[k], transform=ax.transAxes, ha="center", va="center",
            color="white", fontfamily="Liberation Serif", fontweight="bold",
            fontsize=11, zorder=6)
    name, sub = PROTEINS[k]
    ax.text(0.745, 0.958, name + "\n" + sub, transform=ax.transAxes, ha="left", va="top",
            fontfamily="Liberation Serif", fontsize=11, linespacing=1.1, color="#222222")
    for txt, px, py, c in PEAK_LABELS[k]:
        ax.text(px, py + 0.012, txt, ha="center", va="bottom", color=LABEL_COL[c],
                fontfamily="Liberation Sans", fontsize=8.5)

fig.savefig("out.png", dpi=100, facecolor="white")
